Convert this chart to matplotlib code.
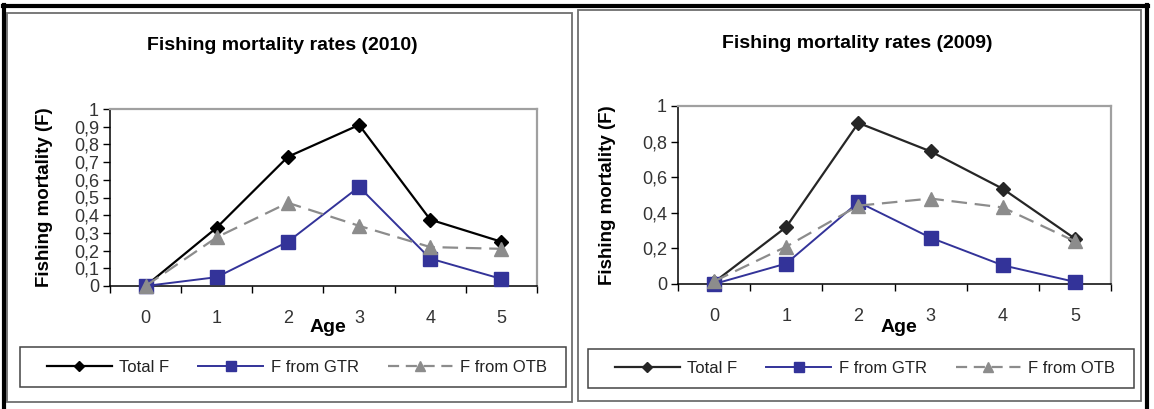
import matplotlib
matplotlib.use("Agg")
import matplotlib.pyplot as plt
from matplotlib.lines import Line2D
from matplotlib.patches import Rectangle
from matplotlib.ticker import FuncFormatter, MultipleLocator

plt.rcParams['font.family'] = ['Liberation Sans', 'DejaVu Sans']

# fishing mortality by age
ages = [0, 1, 2, 3, 4, 5]
age_labels = ['0', '1', '2', '3', '4', '5']

total_2010 = [0.0, 0.33, 0.73, 0.91, 0.375, 0.25]
gtr_2010 = [0.0, 0.05, 0.25, 0.56, 0.155, 0.04]
otb_2010 = [0.0, 0.275, 0.47, 0.34, 0.22, 0.21]

total_2009 = [0.01, 0.32, 0.905, 0.745, 0.535, 0.255]
gtr_2009 = [0.0, 0.115, 0.46, 0.26, 0.105, 0.012]
otb_2009 = [0.015, 0.21, 0.44, 0.48, 0.43, 0.24]

series_names = ['Total F', 'F from GTR', 'F from OTB']

W, H = 1154, 409
fig = plt.figure(figsize=(W / 100, H / 100), dpi=100)


def fbox(x0, y0, x1, y1):
    # pixel box (top-left origin) -> figure fraction rect
    return [x0 / W, 1 - y1 / H, (x1 - x0) / W, (y1 - y0) / H]


def frame(x0, y0, x1, y1, color, lw):
    r = fbox(x0, y0, x1, y1)
    fig.add_artist(Rectangle((r[0], r[1]), r[2], r[3], transform=fig.transFigure,
                             fill=False, edgecolor=color, linewidth=lw))


def comma(v, pos):
    s = ('%.1f' % v).rstrip('0').rstrip('.')
    return s.replace('.', ',')


def draw_panel(title, total, gtr, otb, ystep, area, panel, legend_box, title_xy, ylab_x, total_color):
    frame(*panel, color='#6e6e6e', lw=1.3)

    ax = fig.add_axes(fbox(*area))
    ax.plot(ages, total, color=total_color, lw=1.6, marker='D', ms=7,
            mfc=total_color, mec=total_color, clip_on=False, zorder=3)
    ax.plot(ages, gtr, color='#333399', lw=1.4, marker='s', ms=9.5,
            mfc='#333399', mec='#333399', clip_on=False, zorder=4)
    ax.plot(ages, otb, color='#8c8c8c', lw=1.6, ls=(0, (7, 3.5)), marker='^', ms=9.5,
            mfc='#8c8c8c', mec='#8c8c8c', clip_on=False, zorder=5)

    ax.set_xlim(-0.5, 5.5)
    ax.set_ylim(0, 1)
    ax.set_xticks([i - 0.5 for i in range(7)], minor=False)
    ax.set_xticklabels([])
    ax.set_xticks(ages, minor=True)
    ax.set_xticklabels(age_labels, minor=True)
    ax.tick_params(axis='x', which='major', direction='out', length=5, width=1, color='black')
    ax.tick_params(axis='x', which='minor', length=0, pad=17, labelsize=13, labelcolor='#333333')
    ax.yaxis.set_major_locator(MultipleLocator(ystep))
    ax.yaxis.set_major_formatter(FuncFormatter(comma))
    ax.tick_params(axis='y', direction='out', length=5, width=1, pad=3,
                   labelsize=13, labelcolor='#333333')

    for side in ('top', 'right'):
        ax.spines[side].set_color('#a0a0a0')
        ax.spines[side].set_linewidth(1.6)
    for side in ('left', 'bottom'):
        ax.spines[side].set_color('black')
        ax.spines[side].set_linewidth(1.1)

    fig.text(title_xy[0] / W, 1 - title_xy[1] / H, title, ha='center', va='center',
             fontsize=14, fontweight='bold')
    cx = (area[0] + area[2]) / 2 + 4
    fig.text(cx / W, 1 - 327 / H, 'Age', ha='center', va='center',
             fontsize=14, fontweight='bold')
    fig.text(ylab_x / W, 1 - ((area[1] + area[3]) / 2) / H, 'Fishing mortality (F)',
             ha='center', va='center', rotation=90, fontsize=13.5, fontweight='bold')

    # legend: separate box, entries centred inside it
    frame(*legend_box, color='#444444', lw=1.1)
    handles = [
        Line2D([], [], color=total_color, lw=1.6, marker='D', ms=5, mfc=total_color, mec=total_color),
        Line2D([], [], color='#333399', lw=1.4, marker='s', ms=7, mfc='#333399', mec='#333399'),
        Line2D([], [], color='#8c8c8c', lw=1.6, ls=(0, (5, 3)), marker='^', ms=7,
               mfc='#8c8c8c', mec='#8c8c8c'),
    ]
    lx = (legend_box[0] + legend_box[2]) / 2 + 4
    ly = (legend_box[1] + legend_box[3]) / 2
    leg = fig.legend(handles, series_names, loc='center', ncol=3,
                     bbox_to_anchor=(lx / W, 1 - ly / H), bbox_transform=fig.transFigure,
                     fontsize=12, handlelength=3.9, handletextpad=0.45, columnspacing=1.75,
                     borderaxespad=0, borderpad=0, frameon=False)
    for t in leg.get_texts():
        t.set_color('#222222')
    return ax


draw_panel('Fishing mortality rates (2010)', total_2010, gtr_2010, otb_2010, 0.1,
           area=(110, 109, 537, 286), panel=(7, 13, 572, 402), legend_box=(20, 347, 566, 387),
           title_xy=(282, 45), ylab_x=45, total_color='black')
draw_panel('Fishing mortality rates (2009)', total_2009, gtr_2009, otb_2009, 0.2,
           area=(678, 106, 1111, 284), panel=(578, 10, 1141, 401), legend_box=(588, 349, 1134, 388),
           title_xy=(857, 43), ylab_x=608, total_color='#262626')

# heavy outer border (top, left, right)
for xs, ys in [((3, 1148), (6, 6)), ((4, 4), (5, 409)), ((1147, 1147), (5, 409))]:
    fig.add_artist(Line2D([x / W for x in xs], [1 - y / H for y in ys],
                          transform=fig.transFigure, color='black', lw=3))

fig.savefig('out.png', dpi=100)
